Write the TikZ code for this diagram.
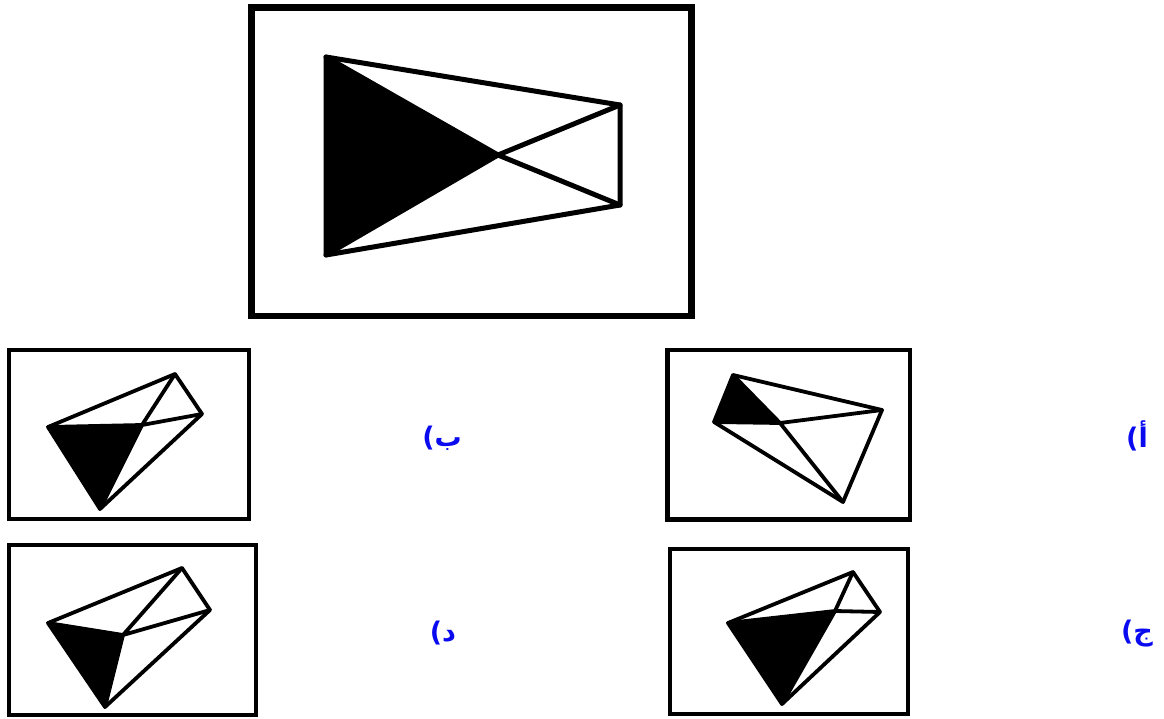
\documentclass[tikz,border=0pt]{standalone}
\usepackage{fontspec}
\newfontfamily\arabicfont[Script=Arabic]{DejaVu Sans}
\TeXXeTstate=1
\definecolor{lblue}{RGB}{10,10,240}
\tikzset{
  bigframe/.style={line width=6.5pt},
  smallframe/.style={line width=4.8pt},
  bigshape/.style={line width=5pt, line join=round, line cap=round},
  smallshape/.style={line width=3.8pt, line join=round, line cap=round},
  lbl/.style={text=lblue, font=\arabicfont\bfseries\fontsize{27}{32}\selectfont, inner sep=0pt}
}
\begin{document}
\begin{tikzpicture}[x=1pt,y=-1pt]
\useasboundingbox (0,0) rectangle (1164,718);
% main
\draw[bigframe] (251.5,7.5) rectangle (691.5,316);
\coordinate (A) at (326,57);
\coordinate (B) at (326,255);
\coordinate (C) at (620,105);
\coordinate (D) at (620,205);
\coordinate (X) at (498,155);
\fill (A) -- (X) -- (B) -- cycle;
\draw[bigshape] (A) -- (C) -- (D) -- (B) -- cycle;
\draw[bigshape] (A) -- (X) -- (D) (B) -- (X) -- (C);
% b (top left)
\draw[smallframe] (9,350) rectangle (249,519);
\coordinate (b1) at (48,427);
\coordinate (b2) at (175,374);
\coordinate (b3) at (202,414);
\coordinate (b4) at (100,509);
\coordinate (bx) at (142,425);
\fill (b1) -- (bx) -- (b4) -- cycle;
\draw[smallshape] (b1) -- (b2) -- (b3) -- (b4) -- cycle;
\draw[smallshape] (b1) -- (bx) -- (b3) (b2) -- (bx) -- (b4);
% a (top right)
\draw[smallframe] (667.5,350) rectangle (910,519.5);
\coordinate (a1) at (733,375);
\coordinate (a2) at (714,422);
\coordinate (a3) at (882,410);
\coordinate (a4) at (843,502);
\coordinate (ax) at (780,423);
\fill (a1) -- (ax) -- (a2) -- cycle;
\draw[smallshape] (a1) -- (a3) -- (a4) -- (a2) -- cycle;
\draw[smallshape] (a2) -- (ax) -- (a3) (a1) -- (ax) -- (a4);
% d (bottom left)
\draw[smallframe] (9,545) rectangle (256,715);
\coordinate (d1) at (48,623);
\coordinate (d2) at (182,568);
\coordinate (d3) at (210,610);
\coordinate (d4) at (105,707);
\coordinate (dm) at (123,635);
\fill (d1) -- (dm) -- (d4) -- cycle;
\draw[smallshape] (d1) -- (d2) -- (d3) -- (d4) -- cycle;
\draw[smallshape] (d1) -- (dm) -- (d4) (d2) -- (dm) -- (d3);
% c (bottom right)
\draw[smallframe] (670,549) rectangle (908,714);
\coordinate (c1) at (728,623);
\coordinate (c2) at (853,572);
\coordinate (c3) at (880,612);
\coordinate (c4) at (782,704);
\coordinate (cx) at (835,611);
\fill (c1) -- (cx) -- (c4) -- cycle;
\draw[smallshape] (c1) -- (c2) -- (c3) -- (c4) -- cycle;
\draw[smallshape] (c1) -- (cx) -- (c3) (c2) -- (cx) -- (c4);
% labels
\node[lbl] (lb) at (442,438) {\beginR ب)\endR};
\node[lbl] (la) at (1137,436) {\beginR أ)\endR};
\node[lbl] (ld) at (443,633) {\beginR د)\endR};
\node[lbl] (lc) at (1137,634) {\beginR ج)\endR};
\end{tikzpicture}
\end{document}
